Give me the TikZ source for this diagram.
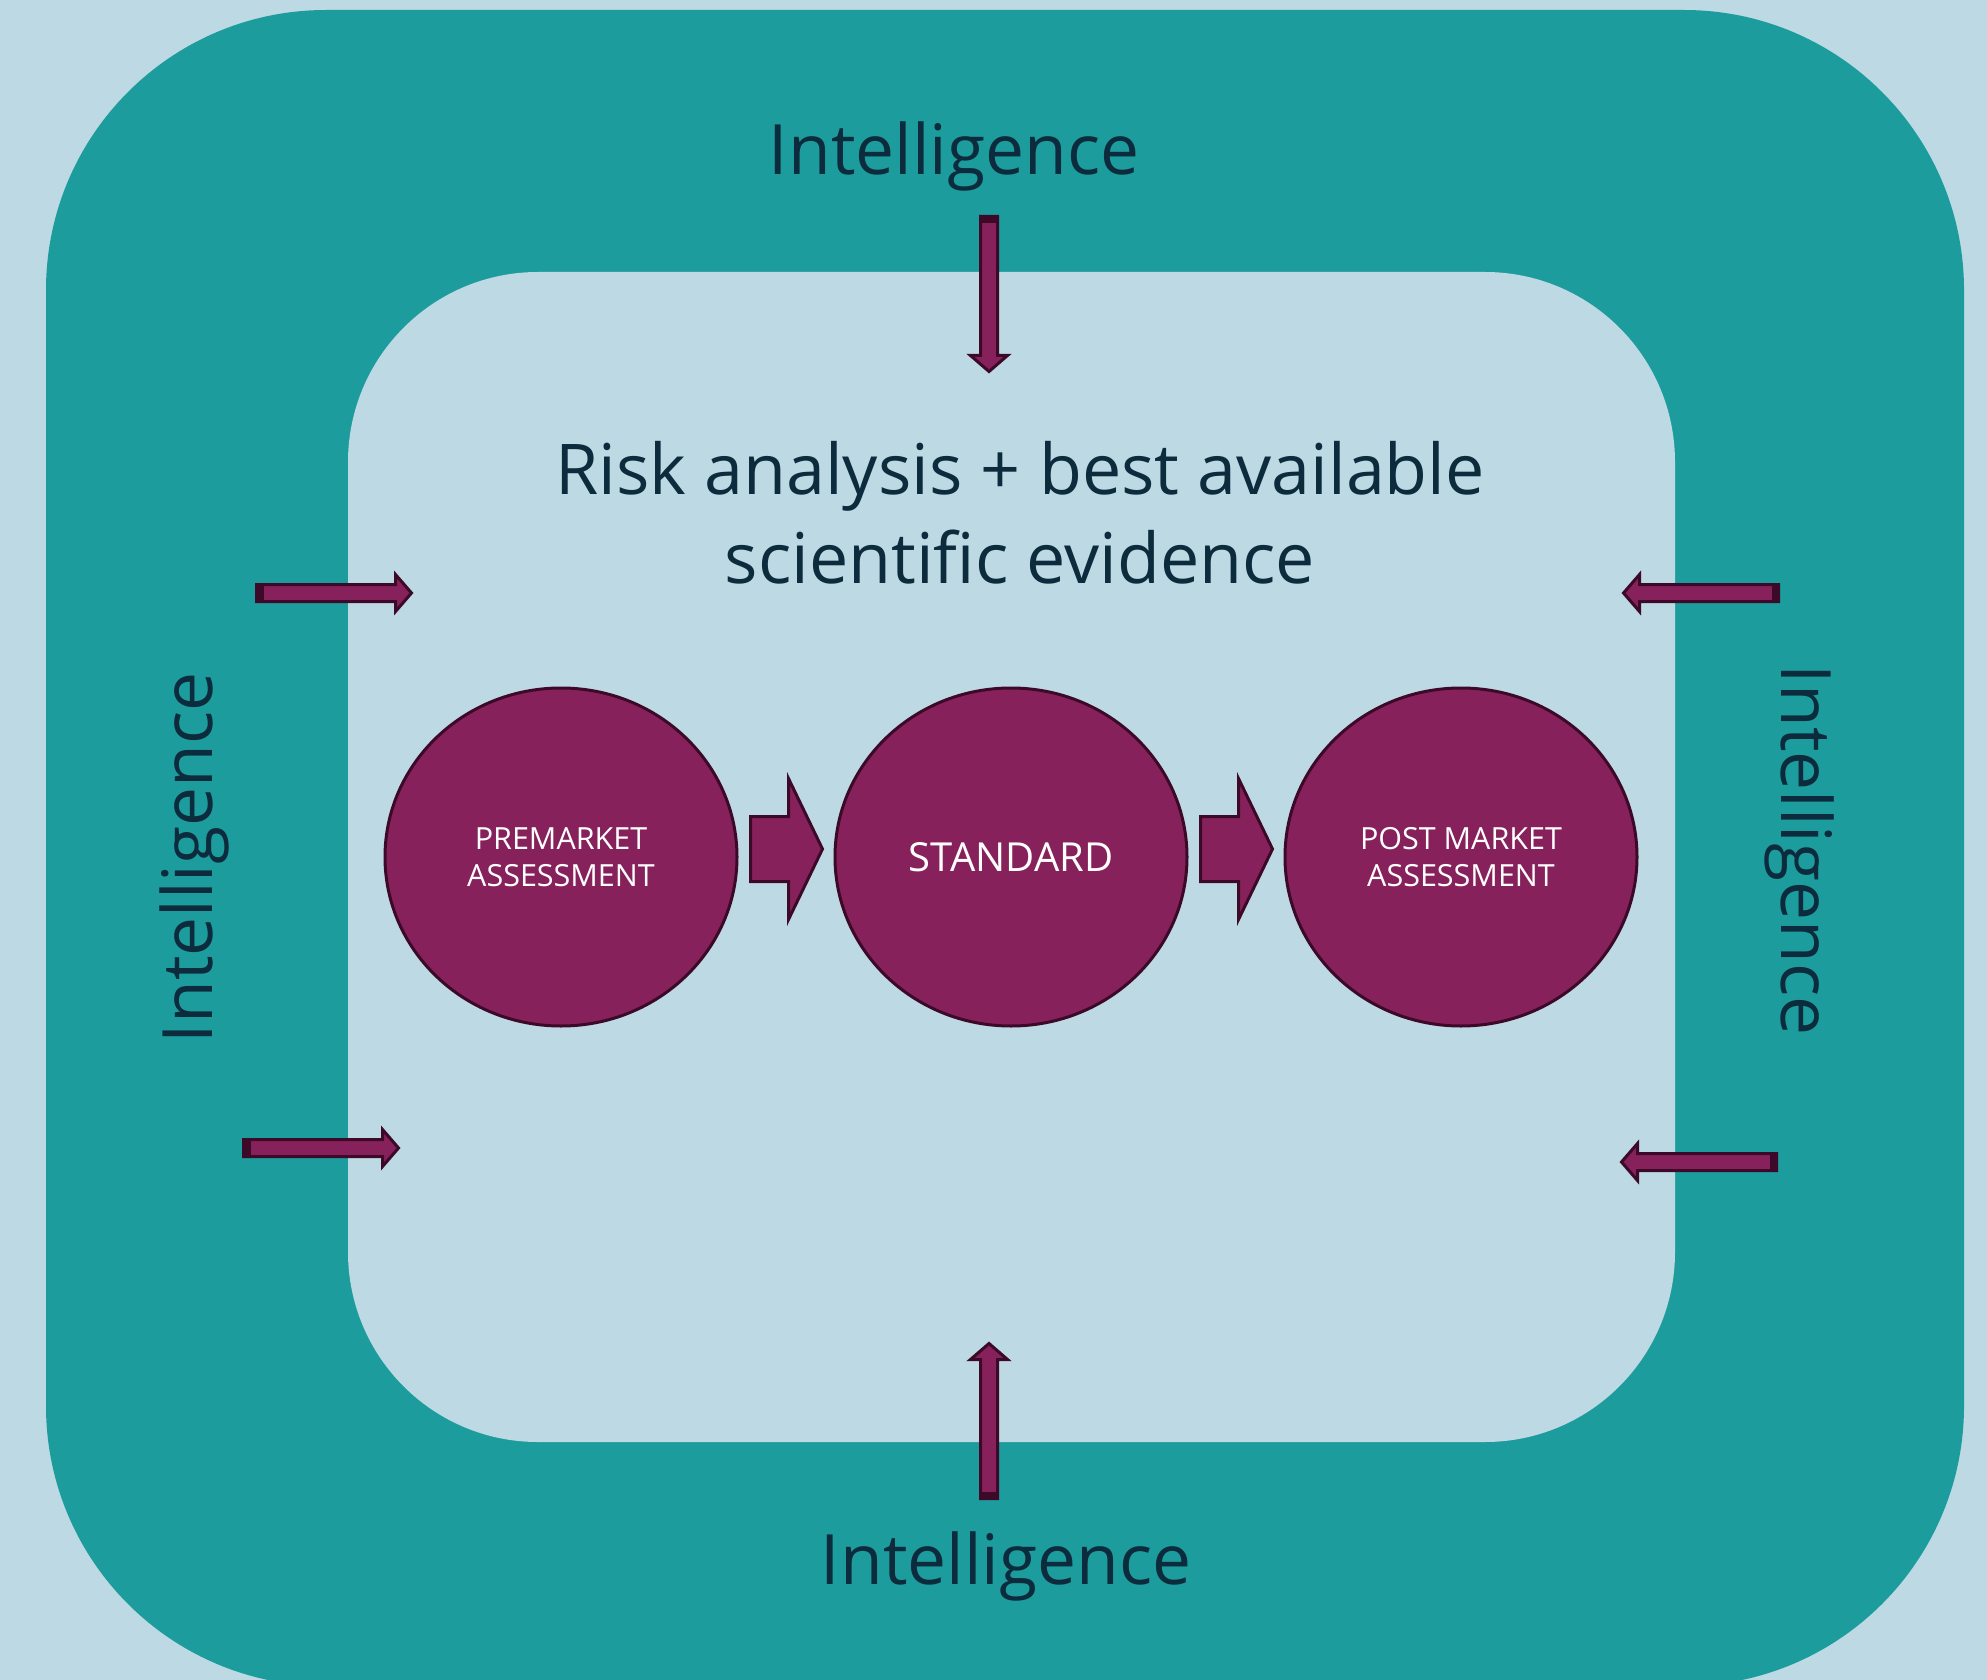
\documentclass[tikz,border=0pt]{standalone}
\usepackage{fontspec}
\setmainfont{Open Sans}
\usetikzlibrary{shapes.geometric}
\definecolor{bgblue}{HTML}{BDD9E3}
\definecolor{tealbg}{HTML}{1D9C9E}
\definecolor{mfill}{HTML}{87215C}
\definecolor{mline}{HTML}{3C0A28}
\definecolor{txtc}{HTML}{0C2B3C}
\tikzset{
  bubble/.style={ellipse, draw=mline, line width=3pt, fill=mfill,
    minimum width=352pt, minimum height=338pt, inner sep=0pt,
    text=white, align=center, font=\fontsize{30.5}{37}\selectfont},
  intel/.style={text=txtc, inner sep=0pt, font=\fontsize{69.5}{83}\selectfont},
  risktext/.style={text=txtc, inner sep=0pt, font=\fontsize{70}{89}\selectfont},
  thinarr/.pic={
    \filldraw[fill=mfill, draw=mline, line width=3pt]
      (0,-8.5) -- (139,-8.5) -- (139,-18.5) -- (155,0) -- (139,18.5)
      -- (139,8.5) -- (0,8.5) -- cycle;
    \fill[mline] (-1.5,-10) rectangle (7,10);
  },
  blockarr/.pic={
    \filldraw[fill=mfill, draw=mline, line width=3pt]
      (0,-32.5) -- (38,-32.5) -- (38,-70.5) -- (72,0) -- (38,70.5)
      -- (38,32.5) -- (0,32.5) -- cycle;
  }
}
\begin{document}
\begin{tikzpicture}[x=1pt,y=-1pt]
\useasboundingbox (0,0) rectangle (1987,1680);
\fill[bgblue] (0,0) rectangle (1987,1680);
\node[fill=tealbg, rounded corners=280pt, minimum width=1918pt,
  minimum height=1676pt, inner sep=0pt] (outer) at (1005,848) {};
\node[fill=bgblue, rounded corners=190pt, minimum width=1327pt,
  minimum height=1170pt, inner sep=0pt] (inner) at (1011.5,857) {};

\node[intel, anchor=base] (itop) at (954,175) {Intelligence};
\node[intel, anchor=base] (ibottom) at (1006,1584) {Intelligence};
\node[intel, anchor=base, rotate=90] (ileft) at (212,858) {Intelligence};
\node[intel, anchor=base, rotate=-90] (iright) at (1781,850) {Intelligence};

\node[risktext, anchor=base] (risk1) at (1020,494) {Risk analysis + best available};
\node[risktext, anchor=base] (risk2) at (1020,583) {scientific evidence};

\node[bubble] (pre) at (561,857) {PREMARKET\\ASSESSMENT};
\node[bubble, font=\fontsize{40}{47}\selectfont] (std) at (1011,857) {STANDARD};
\node[bubble] (post) at (1461,857) {POST MARKET\\ASSESSMENT};

\pic at (750.5,849) {blockarr};
\pic at (1200.5,849) {blockarr};

\pic[rotate=-90] at (989,216.5) {thinarr};
\pic[rotate=90] at (989,1498.5) {thinarr};
\pic at (256.5,593) {thinarr};
\pic at (243.5,1148) {thinarr};
\pic[rotate=180] at (1778.5,593) {thinarr};
\pic[rotate=180] at (1776.5,1162) {thinarr};
\end{tikzpicture}
\end{document}
